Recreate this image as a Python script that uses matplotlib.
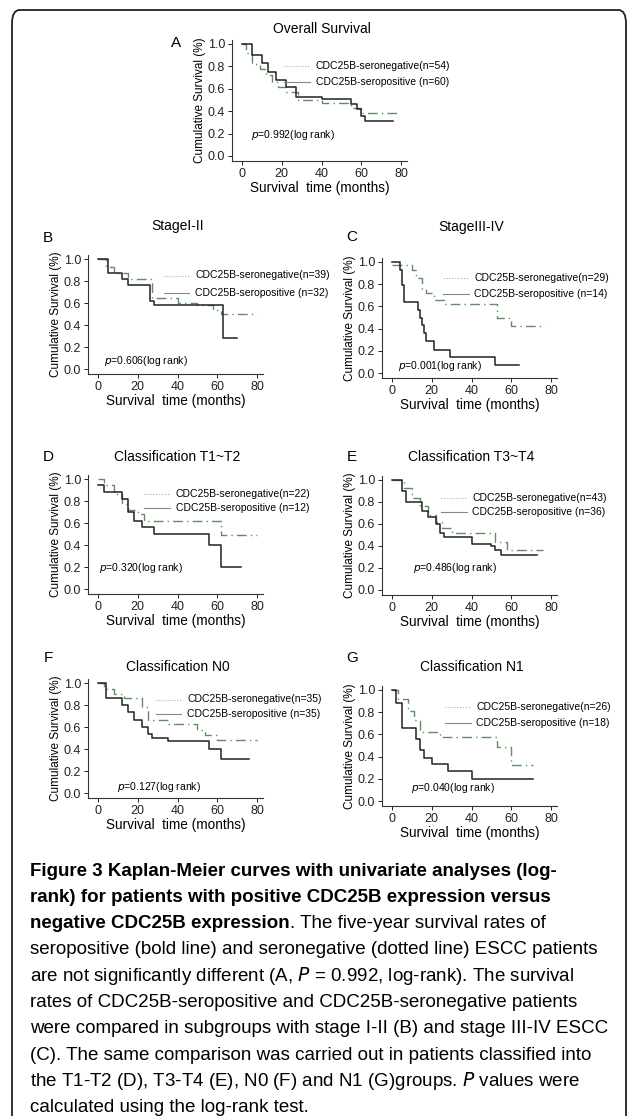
import matplotlib
matplotlib.use("Agg")
import matplotlib.pyplot as plt
from matplotlib.patches import FancyBboxPatch

plt.rcParams['font.family'] = ['Liberation Sans', 'DejaVu Sans']

W, H = 633, 1116

titles = ["Overall Survival", "StageI-II", "StageIII-IV", "Classification T1~T2",
          "Classification T3~T4", "Classification N0", "Classification N1"]
letters = ["A", "B", "C", "D", "E", "F", "G"]
neg_labels = ["CDC25B-seronegative(n=54)", "CDC25B-seronegative(n=39)", "CDC25B-seronegative(n=29)",
              "CDC25B-seronegative(n=22)", "CDC25B-seronegative(n=43)", "CDC25B-seronegative(n=35)",
              "CDC25B-seronegative(n=26)"]
pos_labels = ["CDC25B-seropositive (n=60)", "CDC25B-seropositive (n=32)", "CDC25B-seropositive (n=14)",
              "CDC25B-seropositive (n=12)", "CDC25B-seropositive (n=36)", "CDC25B-seropositive (n=35)",
              "CDC25B-seropositive (n=18)"]
p_texts = ["0.992", "0.606", "0.001", "0.320", "0.486", "0.127", "0.040"]

neg_t = [
    [0, 2, 5, 9, 12, 15, 18, 22, 28, 40, 55, 60, 79],
    [0, 4, 8, 15, 27, 40, 50, 58, 62, 80],
    [0, 10, 12, 15, 17, 21, 26, 53, 60, 77],
    [0, 3, 8, 12, 15, 20, 23, 62, 80],
    [0, 6, 10, 14, 18, 22, 25, 30, 52, 58, 76],
    [0, 3, 8, 13, 22, 25, 35, 50, 54, 60, 80],
    [0, 3, 8, 11, 14, 24, 53, 60, 71],
]
neg_s = [
    [1.0, 0.92, 0.82, 0.78, 0.72, 0.66, 0.62, 0.57, 0.5, 0.47, 0.43, 0.38, 0.38],
    [1.0, 0.93, 0.87, 0.82, 0.65, 0.6, 0.58, 0.54, 0.5, 0.5],
    [0.97, 0.93, 0.86, 0.76, 0.72, 0.66, 0.62, 0.5, 0.42, 0.42],
    [1.0, 0.95, 0.86, 0.77, 0.72, 0.68, 0.62, 0.49, 0.49],
    [1.0, 0.93, 0.84, 0.76, 0.68, 0.62, 0.56, 0.52, 0.44, 0.36, 0.36],
    [1.0, 0.95, 0.9, 0.86, 0.78, 0.66, 0.63, 0.57, 0.53, 0.48, 0.48],
    [1.0, 0.92, 0.81, 0.73, 0.62, 0.58, 0.49, 0.32, 0.32],
]
pos_t = [
    [0, 5, 10, 13, 17, 22, 27, 40, 55, 58, 60, 62, 76],
    [0, 5, 12, 15, 26, 28, 63, 70],
    [0, 4, 5, 6, 13, 14, 15, 16, 17, 21, 29, 52, 64],
    [0, 3, 12, 15, 18, 22, 28, 56, 62, 72],
    [0, 5, 7, 15, 18, 22, 24, 26, 40, 50, 52, 55, 73],
    [0, 4, 12, 15, 18, 22, 25, 27, 35, 56, 62, 76],
    [0, 2, 5, 12, 14, 16, 20, 28, 40, 71],
]
pos_s = [
    [1.0, 0.9, 0.83, 0.75, 0.68, 0.62, 0.53, 0.51, 0.46, 0.42, 0.36, 0.31, 0.31],
    [1.0, 0.87, 0.82, 0.76, 0.62, 0.58, 0.28, 0.28],
    [1.0, 0.93, 0.79, 0.64, 0.57, 0.5, 0.43, 0.36, 0.29, 0.21, 0.14, 0.07, 0.07],
    [0.95, 0.88, 0.82, 0.7, 0.62, 0.56, 0.5, 0.4, 0.2, 0.2],
    [1.0, 0.9, 0.8, 0.72, 0.66, 0.6, 0.52, 0.48, 0.42, 0.4, 0.36, 0.32, 0.32],
    [1.0, 0.86, 0.8, 0.74, 0.66, 0.6, 0.54, 0.5, 0.47, 0.4, 0.31, 0.31],
    [1.0, 0.88, 0.66, 0.56, 0.46, 0.39, 0.33, 0.27, 0.2, 0.2],
]

# legend / p-value anchors in data coordinates
leg_x = [37, 49, 41.5, 39, 40.5, 45, 42.5]
leg_y_neg = [0.80, 0.85, 0.86, 0.86, 0.84, 0.85, 0.85]
leg_y_pos = [0.66, 0.69, 0.71, 0.74, 0.71, 0.72, 0.70]
p_x = [4.5, 3, 3, 0.5, 10.8, 9.5, 9.7]
p_y = [0.19, 0.07, 0.06, 0.19, 0.2, 0.05, 0.12]

# pixel position of x=0 tick, y=1.0 tick, y=0.0 tick for each panel
x0_px = [242, 98, 392, 98, 392, 98, 392]
y1_px = [44, 259, 262, 479, 480, 683, 690]
y0_px = [156, 369, 373, 589, 590, 793, 801]
title_px = [29, 226, 227, 457, 457, 667, 667]
letter_px = [(176, 43), (48, 238), (352, 237), (48, 457), (352, 457), (48, 658), (352, 658)]
px_per_x = 159 / 80.0
XMIN, XMAX = -5, 83
YMIN, YMAX = -0.045, 1.04


def draw_panel(fig, i):
    ppy = y0_px[i] - y1_px[i]
    left = x0_px[i] + XMIN * px_per_x
    right = x0_px[i] + XMAX * px_per_x
    top = y0_px[i] - YMAX * ppy
    bot = y0_px[i] - YMIN * ppy
    ax = fig.add_axes([left / W, 1 - bot / H, (right - left) / W, (bot - top) / H])
    ax.set_xlim(XMIN, XMAX)
    ax.set_ylim(YMIN, YMAX)
    ax.step(neg_t[i], neg_s[i], where='post', color='#5f8f5f', lw=1.0, ls=(0, (7, 3, 1, 3)))
    ax.step(pos_t[i], pos_s[i], where='post', color='#222222', lw=1.1)
    for s in ['top', 'right']:
        ax.spines[s].set_visible(False)
    for s in ['left', 'bottom']:
        ax.spines[s].set_linewidth(0.8)
        ax.spines[s].set_color('#333333')
    ax.set_xticks([0, 20, 40, 60, 80])
    ax.set_yticks([0, 0.2, 0.4, 0.6, 0.8, 1.0])
    ax.set_yticklabels(["0.0", "0.2", "0.4", "0.6", "0.8", "1.0"])
    ax.tick_params(labelsize=9, length=3, width=0.7, colors='#222222', pad=2)
    ax.set_xlabel("Survival  time (months)", fontsize=9.8, labelpad=1)
    ax.set_ylabel("Cumulative Survival (%)", fontsize=8.5, labelpad=1)
    fig.text((x0_px[i] + 40 * px_per_x) / W, 1 - title_px[i] / H, titles[i], fontsize=10,
             ha='center', va='center')
    lx, ly = letter_px[i]
    fig.text(lx / W, 1 - ly / H, letters[i], fontsize=11, ha='center', va='center')
    ax.text(p_x[i], p_y[i], r"$p$=" + p_texts[i] + "(log rank)", fontsize=7.5, va='center')
    ax.plot([leg_x[i] - 16, leg_x[i] - 3], [leg_y_neg[i]] * 2, color='#aaaaaa', lw=0.8, ls=':')
    ax.plot([leg_x[i] - 16, leg_x[i] - 3], [leg_y_pos[i]] * 2, color='#888888', lw=0.8)
    ax.text(leg_x[i], leg_y_neg[i], neg_labels[i], fontsize=7.5, va='center')
    ax.text(leg_x[i], leg_y_pos[i], pos_labels[i], fontsize=7.5, va='center')


fig = plt.figure(figsize=(W / 100, H / 100), dpi=100)
# frame: rounded top, running off the bottom edge
fig.patches.append(FancyBboxPatch((12 / W, -30 / H), 614 / W, 1136 / H, boxstyle="round,pad=0,rounding_size=0.012",
                                  transform=fig.transFigure, fill=False, ec='#222222', lw=1.3))
for i in range(7):
    draw_panel(fig, i)

cap_size = 13.5
cap_lines = [
    ("Figure 3 Kaplan-Meier curves with univariate analyses (log-", ""),
    ("rank) for patients with positive CDC25B expression versus", ""),
    ("negative CDC25B expression", ". The five-year survival rates of"),
    ("", "seropositive (bold line) and seronegative (dotted line) ESCC patients"),
    ("", "are not significantly different (A, $P$ = 0.992, log-rank). The survival"),
    ("", "rates of CDC25B-seropositive and CDC25B-seronegative patients"),
    ("", "were compared in subgroups with stage I-II (B) and stage III-IV ESCC"),
    ("", "(C). The same comparison was carried out in patients classified into"),
    ("", "the T1-T2 (D), T3-T4 (E), N0 (F) and N1 (G)groups. $P$ values were"),
    ("", "calculated using the log-rank test."),
]
renderer = fig.canvas.get_renderer()
y = 871
for bold, reg in cap_lines:
    x = 30 / W
    if bold:
        t = fig.text(x, 1 - y / H, bold, fontsize=cap_size, fontweight='bold', va='center')
        x = t.get_window_extent(renderer).x1 / W
    if reg:
        fig.text(x, 1 - y / H, reg, fontsize=cap_size, va='center')
    y += 26.3

fig.savefig("out.png", dpi=100)
